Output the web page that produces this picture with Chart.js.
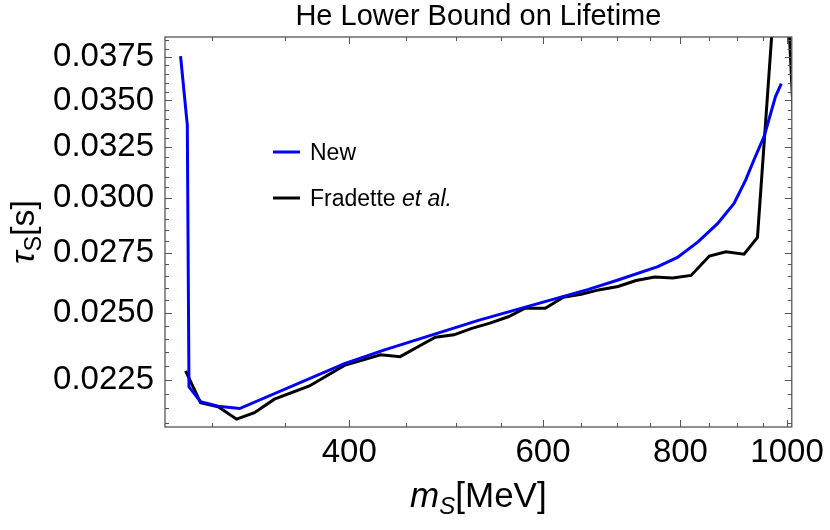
<!DOCTYPE html>
<html>
<head>
<meta charset="utf-8">
<script src="https://cdn.jsdelivr.net/npm/chart.js@4.4.0/dist/chart.umd.min.js"></script>
<style>
  html, body { margin: 0; padding: 0; background: #fff; }
</style>
</head>
<body>
<canvas id="lifetimeChart" width="830" height="530"></canvas>
<script>
// === data ===
const newMass = [281, 285, 286, 293, 304, 318, 396, 430, 525, 660, 702, 763, 795, 830, 865, 895, 917, 933, 953, 976, 988];
const newTau = [0.03754, 0.03366, 0.02224, 0.02172, 0.02157, 0.02149, 0.02307, 0.02357, 0.02472, 0.02595, 0.02634,
  0.02690, 0.02730, 0.02798, 0.02881, 0.02973, 0.03085, 0.03185, 0.03305, 0.03520, 0.03595];

const fradMass = [284, 293, 304, 316, 328, 342, 368, 396, 427, 445, 461, 479, 498, 517, 537, 558, 578, 603, 626, 650,
  674, 702, 729, 758, 787, 818, 850, 880, 914, 940, 990, 1020];
const fradTau = [0.02281, 0.02169, 0.02155, 0.02113, 0.02135, 0.02181, 0.02227, 0.02301, 0.02340, 0.02333, 0.02368,
  0.02406, 0.02415, 0.02440, 0.02460, 0.02485, 0.02519, 0.02519, 0.02563, 0.02575, 0.02593, 0.02607, 0.02632,
  0.02646, 0.02642, 0.02653, 0.02736, 0.02754, 0.02744, 0.02818, 0.0491, 0.0308];

// tick values
const xTicks = [400, 600, 800, 1000];
const xMinorTicks = [300, 350, 450, 500, 550, 650, 700, 750, 850, 900, 950];
const yTicks = [0.0225, 0.0250, 0.0275, 0.0300, 0.0325, 0.0350, 0.0375];
const yMinorTicks = [0.0210, 0.0215, 0.0220, 0.0230, 0.0235, 0.0240, 0.0245, 0.0255, 0.0260, 0.0265, 0.0270,
  0.0280, 0.0285, 0.0290, 0.0295, 0.0305, 0.0310, 0.0315, 0.0320, 0.0330, 0.0335, 0.0340, 0.0345,
  0.0355, 0.0360, 0.0365, 0.0370, 0.0380, 0.0385];

const FONT = "'Liberation Sans', Arial, sans-serif";

// draw a run of text pieces (different fonts / offsets) centred on cx
function drawRich(ctx, parts, cx, baseY) {
  let total = 0;
  parts.forEach(p => { ctx.font = p.font; p.w = ctx.measureText(p.t).width; total += p.w; });
  let x = cx - total / 2;
  ctx.textAlign = 'left';
  ctx.textBaseline = 'alphabetic';
  parts.forEach(p => {
    ctx.font = p.font;
    ctx.fillText(p.t, x, baseY + (p.dy || 0));
    x += p.w;
  });
}

// frame with inward ticks on all four sides, title, axis titles, legend
const framePlugin = {
  id: 'frame',
  afterDatasetsDraw(chart) {
    const { ctx, chartArea: a, scales: { x, y } } = chart;
    ctx.save();
    ctx.strokeStyle = '#555';
    ctx.lineWidth = 1.3;
    ctx.strokeRect(a.left, a.top, a.right - a.left, a.bottom - a.top);

    const xTick = (v, len) => {
      const px = Math.round(x.getPixelForValue(v)) + 0.5;
      ctx.beginPath();
      ctx.moveTo(px, a.bottom); ctx.lineTo(px, a.bottom - len);
      ctx.moveTo(px, a.top); ctx.lineTo(px, a.top + len);
      ctx.stroke();
    };
    const yTick = (v, len) => {
      const py = Math.round(y.getPixelForValue(v)) + 0.5;
      ctx.beginPath();
      ctx.moveTo(a.left, py); ctx.lineTo(a.left + len, py);
      ctx.moveTo(a.right, py); ctx.lineTo(a.right - len, py);
      ctx.stroke();
    };
    ctx.lineWidth = 1;
    xTicks.forEach(v => xTick(v, 7));
    xMinorTicks.forEach(v => xTick(v, 4));
    yTicks.forEach(v => yTick(v, 7));
    yMinorTicks.forEach(v => yTick(v, 4));
    ctx.restore();
  },
  afterDraw(chart) {
    const { ctx, chartArea: a } = chart;
    const cx = (a.left + a.right) / 2;
    ctx.save();
    ctx.fillStyle = '#000';

    // title
    drawRich(ctx, [{ t: 'He Lower Bound on Lifetime', font: `29px ${FONT}` }], cx, 25);

    // x axis title: m_S[MeV]
    drawRich(ctx, [
      { t: 'm', font: `italic 35px ${FONT}` },
      { t: 'S', font: `italic 24px ${FONT}`, dy: 7 },
      { t: '[MeV]', font: `35px ${FONT}` }
    ], cx, 507);

    // y axis title: tau_S[s]
    ctx.save();
    ctx.translate(34, (a.top + a.bottom) / 2);
    ctx.rotate(-Math.PI / 2);
    drawRich(ctx, [
      { t: 'τ', font: `italic 34px ${FONT}` },
      { t: 'S', font: `23px ${FONT}`, dy: 7 },
      { t: '[s]', font: `34px ${FONT}` }
    ], 0, 0);
    ctx.restore();

    // legend
    const legend = [
      { color: '#0000ff', y: 152, parts: [{ t: 'New', font: `23px ${FONT}` }] },
      { color: '#000000', y: 198, parts: [
        { t: 'Fradette ', font: `23px ${FONT}` },
        { t: 'et al.', font: `italic 23px ${FONT}` }
      ] }
    ];
    legend.forEach(item => {
      ctx.strokeStyle = item.color;
      ctx.lineWidth = 3;
      ctx.beginPath();
      ctx.moveTo(273, item.y); ctx.lineTo(300, item.y);
      ctx.stroke();
      let tx = 310;
      ctx.textAlign = 'left';
      ctx.textBaseline = 'alphabetic';
      item.parts.forEach(p => {
        ctx.font = p.font;
        ctx.fillText(p.t, tx, item.y + 8);
        tx += ctx.measureText(p.t).width;
      });
    });
    ctx.restore();
  }
};

const toPoints = (xs, ys) => xs.map((m, i) => ({ x: m, y: ys[i] }));

const ctx = document.getElementById('lifetimeChart').getContext('2d');
new Chart(ctx, {
  type: 'line',
  data: {
    datasets: [
      {
        label: 'New',
        data: toPoints(newMass, newTau),
        borderColor: '#0000ff',
        borderWidth: 3,
        pointRadius: 0,
        tension: 0,
        fill: false
      },
      {
        label: 'Fradette et al.',
        data: toPoints(fradMass, fradTau),
        borderColor: '#000000',
        borderWidth: 3,
        pointRadius: 0,
        tension: 0,
        fill: false
      }
    ]
  },
  options: {
    responsive: false,
    devicePixelRatio: 1,
    animation: false,
    layout: { padding: { top: 37, right: 35, left: 0, bottom: 0 } },
    plugins: {
      legend: { display: false },
      title: { display: false },
      tooltip: { enabled: false }
    },
    scales: {
      x: {
        type: 'logarithmic',
        bounds: 'data',
        min: 272,
        max: 1010,
        grid: { display: false, drawTicks: false },
        border: { display: false },
        afterBuildTicks: scale => { scale.ticks = xTicks.map(v => ({ value: v })); },
        afterFit: scale => { scale.height = 103; },
        ticks: {
          padding: 6,
          maxRotation: 0,
          autoSkip: false,
          color: '#000',
          font: { family: FONT, size: 33 },
          callback: v => String(v)
        }
      },
      y: {
        type: 'logarithmic',
        bounds: 'data',
        min: 0.02087,
        max: 0.0387,
        grid: { display: false, drawTicks: false },
        border: { display: false },
        afterBuildTicks: scale => { scale.ticks = yTicks.map(v => ({ value: v })); },
        afterFit: scale => { scale.width = 165; },
        ticks: {
          padding: 11,
          autoSkip: false,
          color: '#000',
          font: { family: FONT, size: 33 },
          callback: v => v.toFixed(4)
        }
      }
    }
  },
  plugins: [framePlugin]
});
</script>
</body>
</html>
